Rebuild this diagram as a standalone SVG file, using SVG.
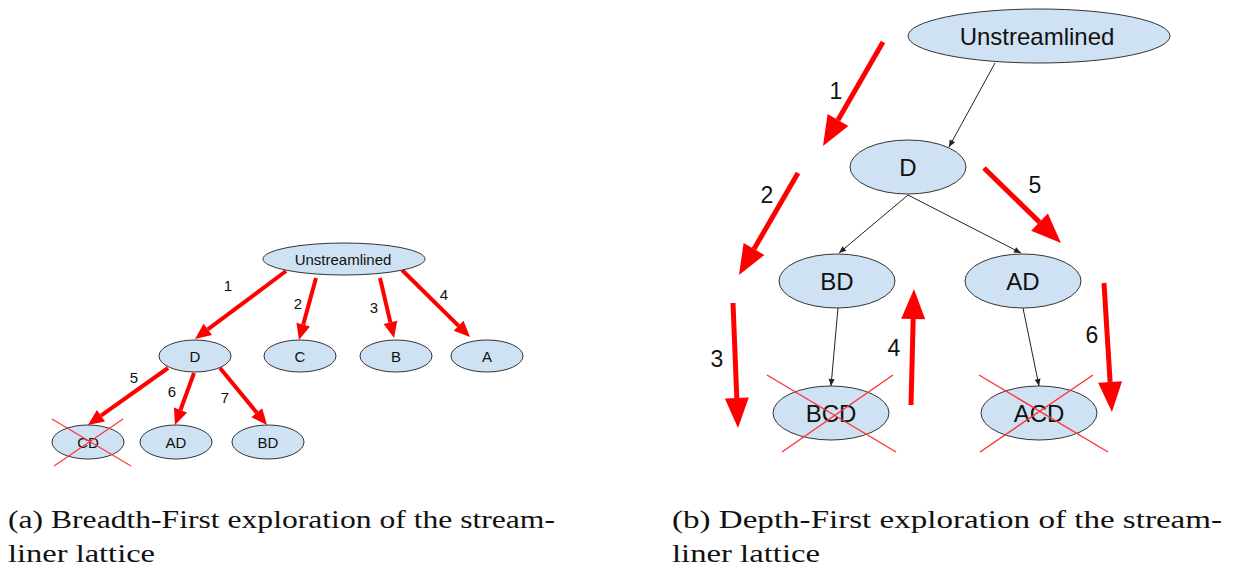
<svg xmlns="http://www.w3.org/2000/svg" width="1237" height="569" viewBox="0 0 1237 569">
<style>
.node{fill:#cfe2f3;stroke:#333;stroke-width:1}
.t{font-family:"Liberation Sans",Arial,sans-serif;fill:#111;text-anchor:middle}
.ts{font-size:15px}
.tl{font-size:24px}
.ra{stroke:#ff0000;stroke-width:4;fill:none}
.rb{stroke:#ff0000;stroke-width:5;fill:none}
.bk{stroke:#222;stroke-width:1;fill:none}
.x1{stroke:#ff3333;stroke-width:1.1}
.x2{stroke:#ff3333;stroke-width:1.4}
.cap{font-family:"Liberation Serif","Times New Roman",serif;font-size:25px;fill:#111}
</style>
<defs>
<marker id="hs" markerUnits="userSpaceOnUse" markerWidth="18" markerHeight="16" refX="0" refY="7" orient="auto" overflow="visible">
<path d="M0,0 L16,7 L0,14 Z" fill="#ff0000"/>
</marker>
<marker id="hl" markerUnits="userSpaceOnUse" markerWidth="32" markerHeight="26" refX="0" refY="12" orient="auto" overflow="visible">
<path d="M0,0 L30,12 L0,24 Z" fill="#ff0000"/>
</marker>
<marker id="hb" markerUnits="userSpaceOnUse" markerWidth="8" markerHeight="7" refX="7" refY="3" orient="auto" overflow="visible">
<path d="M0,0 L7,3 L0,6 Z" fill="#222"/>
</marker>
</defs>

<!-- Left panel: breadth-first -->
<g id="connectors-a">
<line class="ra" x1="286" y1="271" x2="207.8" y2="329.4" marker-end="url(#hs)"/>
<line class="ra" x1="316" y1="278" x2="303.2" y2="324.6" marker-end="url(#hs)"/>
<line class="ra" x1="380" y1="278" x2="390.4" y2="322.4" marker-end="url(#hs)"/>
<line class="ra" x1="402" y1="270" x2="458.6" y2="325.8" marker-end="url(#hs)"/>
<line class="ra" x1="168" y1="368" x2="101" y2="415.7" marker-end="url(#hs)"/>
<line class="ra" x1="194" y1="373" x2="180.5" y2="410" marker-end="url(#hs)"/>
<line class="ra" x1="220" y1="368" x2="256.8" y2="412.7" marker-end="url(#hs)"/>
<g class="t ts">
<text x="228" y="291">1</text>
<text x="298" y="309">2</text>
<text x="374" y="313">3</text>
<text x="444" y="300">4</text>
<text x="134" y="383">5</text>
<text x="172" y="397">6</text>
<text x="225" y="403">7</text>
</g>
</g>
<g id="a-unstreamlined"><ellipse class="node" cx="344" cy="259" rx="81" ry="16"/><text class="t ts" x="343" y="264.5">Unstreamlined</text></g>
<g id="a-D"><ellipse class="node" cx="195" cy="356" rx="36" ry="16"/><text class="t ts" x="195" y="361.5">D</text></g>
<g id="a-C"><ellipse class="node" cx="300" cy="356" rx="36" ry="16"/><text class="t ts" x="300" y="361.5">C</text></g>
<g id="a-B"><ellipse class="node" cx="396" cy="356" rx="36" ry="16"/><text class="t ts" x="396" y="361.5">B</text></g>
<g id="a-A"><ellipse class="node" cx="487" cy="356" rx="36" ry="16"/><text class="t ts" x="487" y="361.5">A</text></g>
<g id="a-CD"><ellipse class="node" cx="88" cy="442" rx="36" ry="17"/><text class="t ts" x="88" y="447.5">CD</text>
<line class="x1" x1="52" y1="419" x2="131" y2="466"/><line class="x1" x1="123" y1="419" x2="54" y2="466"/></g>
<g id="a-AD"><ellipse class="node" cx="176" cy="442" rx="36" ry="17"/><text class="t ts" x="176" y="447.5">AD</text></g>
<g id="a-BD"><ellipse class="node" cx="268" cy="442" rx="36" ry="17"/><text class="t ts" x="268" y="447.5">BD</text></g>

<!-- Right panel: depth-first -->
<g id="connectors-b">
<line class="bk" x1="995" y1="63" x2="949" y2="147" marker-end="url(#hb)"/>
<line class="bk" x1="908" y1="195" x2="839" y2="253" marker-end="url(#hb)"/>
<line class="bk" x1="908" y1="195" x2="1021" y2="253" marker-end="url(#hb)"/>
<line class="bk" x1="838" y1="308" x2="831" y2="386" marker-end="url(#hb)"/>
<line class="bk" x1="1023" y1="308" x2="1039" y2="386" marker-end="url(#hb)"/>
<line class="rb" x1="883" y1="42" x2="838" y2="120" marker-end="url(#hl)"/>
<line class="rb" x1="798" y1="173" x2="754" y2="249" marker-end="url(#hl)"/>
<line class="rb" x1="733" y1="303" x2="736.8" y2="398" marker-end="url(#hl)"/>
<line class="rb" x1="911" y1="405" x2="913.2" y2="319" marker-end="url(#hl)"/>
<line class="rb" x1="984" y1="168" x2="1039.5" y2="222.1" marker-end="url(#hl)"/>
<line class="rb" x1="1104" y1="283" x2="1110.1" y2="382" marker-end="url(#hl)"/>
<g class="t" style="font-size:23px">
<text x="836" y="99">1</text>
<text x="767" y="203">2</text>
<text x="717" y="367">3</text>
<text x="894" y="356">4</text>
<text x="1035" y="193">5</text>
<text x="1092" y="343">6</text>
</g>
</g>
<g id="b-unstreamlined"><ellipse class="node" cx="1039" cy="36" rx="131" ry="27"/><text class="t tl" x="1037" y="44.6">Unstreamlined</text></g>
<g id="b-D"><ellipse class="node" cx="908" cy="167" rx="58" ry="27"/><text class="t tl" x="908" y="175.6">D</text></g>
<g id="b-BD"><ellipse class="node" cx="837" cy="281" rx="58" ry="27"/><text class="t tl" x="837" y="289.6">BD</text></g>
<g id="b-AD"><ellipse class="node" cx="1023" cy="281" rx="58" ry="27"/><text class="t tl" x="1023" y="289.6">AD</text></g>
<g id="b-BCD"><ellipse class="node" cx="831" cy="413" rx="58" ry="27"/><text class="t tl" x="831" y="421.6">BCD</text>
<line class="x2" x1="767" y1="375" x2="896" y2="452"/><line class="x2" x1="893" y1="375" x2="782" y2="452"/></g>
<g id="b-ACD"><ellipse class="node" cx="1039" cy="413" rx="58" ry="27"/><text class="t tl" x="1039" y="421.6">ACD</text>
<line class="x2" x1="979" y1="375" x2="1108" y2="452"/><line class="x2" x1="1093" y1="375" x2="980" y2="452"/></g>

<!-- Captions -->
<g id="captions">
<text class="cap" x="8" y="528" textLength="547" lengthAdjust="spacingAndGlyphs">(a) Breadth-First exploration of the stream-</text>
<text class="cap" x="8" y="562" textLength="147" lengthAdjust="spacingAndGlyphs">liner lattice</text>
<text class="cap" x="672" y="528" textLength="550" lengthAdjust="spacingAndGlyphs">(b) Depth-First exploration of the stream-</text>
<text class="cap" x="672" y="562" textLength="148" lengthAdjust="spacingAndGlyphs">liner lattice</text>
</g>
</svg>
